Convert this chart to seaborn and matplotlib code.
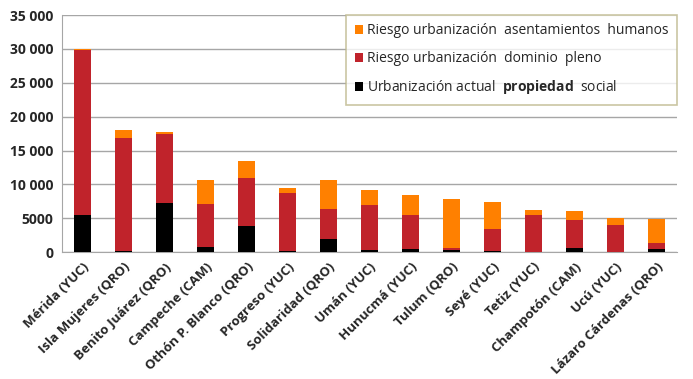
import numpy as np
import pandas as pd
import matplotlib
matplotlib.use("Agg")
import matplotlib.pyplot as plt
import seaborn as sns
from matplotlib.ticker import FuncFormatter, MultipleLocator, FixedLocator

municipios = ["Mérida (YUC)", "Isla Mujeres (QRO)", "Benito Juárez (QRO)", "Campeche (CAM)",
              "Othón P. Blanco (QRO)", "Progreso (YUC)", "Solidaridad (QRO)", "Umán (YUC)",
              "Hunucmá (YUC)", "Tulum (QRO)", "Seyé (YUC)", "Tetiz (YUC)", "Champotón (CAM)",
              "Ucú (YUC)", "Lázaro Cárdenas (QRO)"]

# hectares per category
actual_social = [5500, 200, 7200, 700, 3900, 200, 1900, 350, 500, 300, 200, 50, 650, 0, 500]
riesgo_dominio = [24300, 16650, 10200, 6450, 7000, 8550, 4500, 6550, 4950, 350, 3150, 5450, 4100, 4000, 800]
riesgo_asent = [200, 1150, 370, 3450, 2550, 750, 4300, 2200, 2950, 7150, 4100, 700, 1300, 1100, 3600]

ORANGE = "#FF8000"
RED = "#C0232B"
BLACK = "#000000"

df = pd.DataFrame({
    "municipio": municipios,
    "social": actual_social,
    "dominio": riesgo_dominio,
    "asent": riesgo_asent,
})
df["c1"] = df["social"]
df["c2"] = df["c1"] + df["dominio"]
df["c3"] = df["c2"] + df["asent"]

sns.set_style("white")
plt.rcParams["font.family"] = ["Open Sans", "DejaVu Sans"]
plt.rcParams["mathtext.fontset"] = "custom"
plt.rcParams["mathtext.bf"] = "Open Sans:bold"
plt.rcParams["mathtext.rm"] = "Open Sans"

fig = plt.figure(figsize=(6.93, 3.79), dpi=100)
ax = fig.add_axes([0.0895, 0.335, 0.8875, 0.625])

w = 0.4
sns.barplot(data=df, x="municipio", y="c3", color=ORANGE, width=w, saturation=1, ax=ax,
            linewidth=0, label="Riesgo urbanización  asentamientos  humanos", zorder=3)
sns.barplot(data=df, x="municipio", y="c2", color=RED, width=w, saturation=1, ax=ax,
            linewidth=0, label="Riesgo urbanización  dominio  pleno", zorder=3)
sns.barplot(data=df, x="municipio", y="c1", color=BLACK, width=w, saturation=1, ax=ax,
            linewidth=0, label=r"Urbanización actual  $\mathbf{propiedad}$  social", zorder=3)

ax.set_xlim(-0.5, len(municipios) - 0.5)
ax.set_ylim(0, 35000)
ax.yaxis.set_major_locator(MultipleLocator(5000))
ax.yaxis.set_major_formatter(FuncFormatter(
    lambda v, p: f"{int(v):,}".replace(",", " ") if v >= 10000 else f"{int(v)}"))
ax.grid(axis="y", color="#A6A6A6", linewidth=1, zorder=0)
ax.set_axisbelow(True)

for s in ["top", "right"]:
    ax.spines[s].set_visible(False)
ax.spines["left"].set_color("#A6A6A6")
ax.spines["bottom"].set_color("#A6A6A6")

ax.set_xlabel("")
ax.set_ylabel("")
ax.xaxis.set_minor_locator(FixedLocator(np.arange(-0.5, len(municipios), 1.0)))
ax.tick_params(axis="x", which="major", length=0, pad=6)
ax.tick_params(axis="x", which="minor", length=5, color="#A6A6A6", direction="out")
ax.tick_params(axis="y", length=0, pad=6)
plt.setp(ax.get_xticklabels(), rotation=45, ha="right", rotation_mode="anchor",
         fontsize=9.5, fontweight="bold", color="#262626")
plt.setp(ax.get_yticklabels(), fontsize=10, fontweight="bold", color="#262626")

handles, labels = ax.get_legend_handles_labels()
leg = ax.legend(handles, labels, loc="upper right", bbox_to_anchor=(1.0, 1.0),
                fontsize=10, frameon=True, fancybox=False, handlelength=0.6,
                handleheight=0.6, handletextpad=0.3, labelspacing=0.9,
                borderpad=0.6, borderaxespad=0)
leg.get_frame().set_edgecolor("#BDB88C")
leg.get_frame().set_linewidth(1.2)

fig.savefig("out.png", dpi=100)
